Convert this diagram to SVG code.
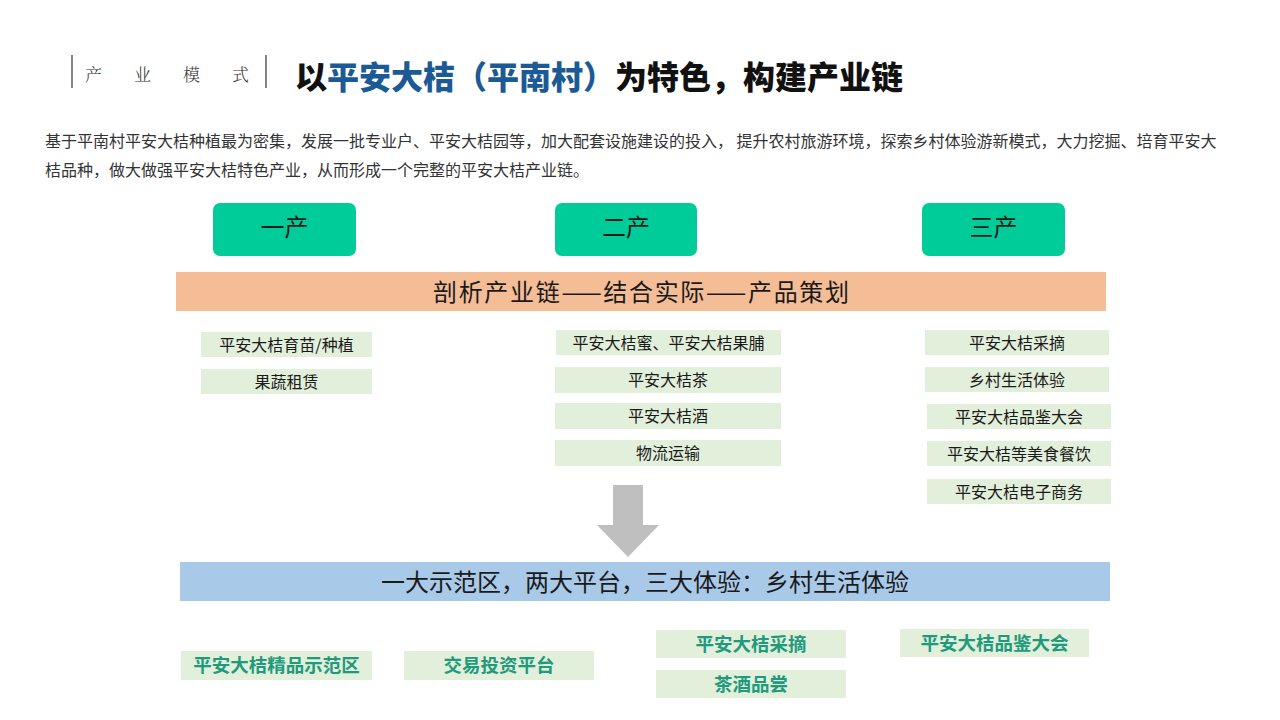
<svg xmlns="http://www.w3.org/2000/svg" width="1280" height="720" viewBox="0 0 1280 720">
<style>
.cjk{font-family:"Noto Sans CJK SC","Liberation Sans",sans-serif}
.lbl{font-family:"Noto Sans CJK SC","Liberation Sans",sans-serif;font-size:16px;fill:#1a1a1a;text-anchor:middle;dominant-baseline:central}
.big{font-family:"Noto Sans CJK SC","Liberation Sans",sans-serif;font-size:24px;fill:#1a1a1a;text-anchor:middle;dominant-baseline:central}
.bold{font-family:"Noto Sans CJK SC","Liberation Sans",sans-serif;font-size:18.5px;font-weight:bold;fill:#1f9a7c;text-anchor:middle;dominant-baseline:central}
.stage{fill:#00cc99}
.item{fill:#e2efda}
</style>
<rect width="1280" height="720" fill="#ffffff"/>
<g id="header">
<line x1="72" y1="55" x2="72" y2="88" stroke="#333" stroke-width="1.2"/>
<text x="85" y="81" font-family="Noto Serif CJK SC,Noto Sans CJK SC,serif" font-size="17" font-weight="300" fill="#333" letter-spacing="32">产业模式</text>
<line x1="266" y1="55" x2="266" y2="88" stroke="#333" stroke-width="1.2"/>
<text x="295" y="89" class="cjk" font-size="32" font-weight="900" fill="#111">以<tspan fill="#1c5a96">平安大桔（平南村）</tspan>为特色，构建产业链</text>
</g>
<g id="intro" class="cjk" font-size="16" fill="#333">
<text x="45" y="147">基于平南村平安大桔种植最为密集，发展一批专业户、平安大桔园等，加大配套设施建设的投入， 提升农村旅游环境，探索乡村体验游新模式，大力挖掘、培育平安大</text>
<text x="45" y="176">桔品种，做大做强平安大桔特色产业，从而形成一个完整的平安大桔产业链。</text>
</g>
<g id="stage1"><rect class="stage" x="213" y="203" width="143" height="53" rx="7"/><text class="big" x="284.5" y="225">一产</text></g>
<g id="stage2"><rect class="stage" x="555" y="203" width="142" height="53" rx="7"/><text class="big" x="626" y="225">二产</text></g>
<g id="stage3"><rect class="stage" x="922" y="203" width="143" height="53" rx="7"/><text class="big" x="993.5" y="225">三产</text></g>
<g id="analysis"><rect x="176" y="272" width="930" height="39" fill="#f4bd96"/><text class="big" x="641" y="290" textLength="416" lengthAdjust="spacing">剖析产业链——结合实际——产品策划</text></g>
<g id="p1a"><rect class="item" x="201" y="332" width="171" height="25"/><text class="lbl" x="286.5" y="344">平安大桔育苗/种植</text></g>
<g id="p1b"><rect class="item" x="201" y="369" width="171" height="25"/><text class="lbl" x="286.5" y="381">果蔬租赁</text></g>
<g id="p2a"><rect class="item" x="556" y="330" width="225" height="25"/><text class="lbl" x="668.5" y="342">平安大桔蜜、平安大桔果脯</text></g>
<g id="p2b"><rect class="item" x="555" y="367" width="226" height="26"/><text class="lbl" x="668" y="379">平安大桔茶</text></g>
<g id="p2c"><rect class="item" x="555" y="403" width="226" height="26"/><text class="lbl" x="668" y="415">平安大桔酒</text></g>
<g id="p2d"><rect class="item" x="555" y="440" width="226" height="26"/><text class="lbl" x="668" y="452">物流运输</text></g>
<g id="p3a"><rect class="item" x="925" y="330" width="184" height="25"/><text class="lbl" x="1017" y="342">平安大桔采摘</text></g>
<g id="p3b"><rect class="item" x="925" y="367" width="184" height="25"/><text class="lbl" x="1017" y="379">乡村生活体验</text></g>
<g id="p3c"><rect class="item" x="927" y="404" width="184" height="25"/><text class="lbl" x="1019" y="416">平安大桔品鉴大会</text></g>
<g id="p3d"><rect class="item" x="927" y="441" width="184" height="25"/><text class="lbl" x="1019" y="453">平安大桔等美食餐饮</text></g>
<g id="p3e"><rect class="item" x="927" y="479" width="184" height="25"/><text class="lbl" x="1019" y="491">平安大桔电子商务</text></g>
<g id="connectors">
<polygon points="613,485 643,485 643,525 659,525 628,557 597,525 613,525" fill="#bfbfbf"/>
</g>
<g id="summary"><rect x="180" y="562" width="930" height="39" fill="#a9c9e9"/><text class="big" x="645" y="580">一大示范区，两大平台，三大体验：乡村生活体验</text></g>
<g id="b1"><rect class="item" x="181" y="651" width="191" height="29"/><text class="bold" x="276.5" y="664">平安大桔精品示范区</text></g>
<g id="b2"><rect class="item" x="404" y="651" width="190" height="29"/><text class="bold" x="499" y="664">交易投资平台</text></g>
<g id="b3"><rect class="item" x="656" y="630" width="190" height="28"/><text class="bold" x="751" y="643">平安大桔采摘</text></g>
<g id="b4"><rect class="item" x="656" y="670" width="190" height="28"/><text class="bold" x="751" y="683">茶酒品尝</text></g>
<g id="b5"><rect class="item" x="900" y="629" width="189" height="28"/><text class="bold" x="994.5" y="642">平安大桔品鉴大会</text></g>
</svg>
